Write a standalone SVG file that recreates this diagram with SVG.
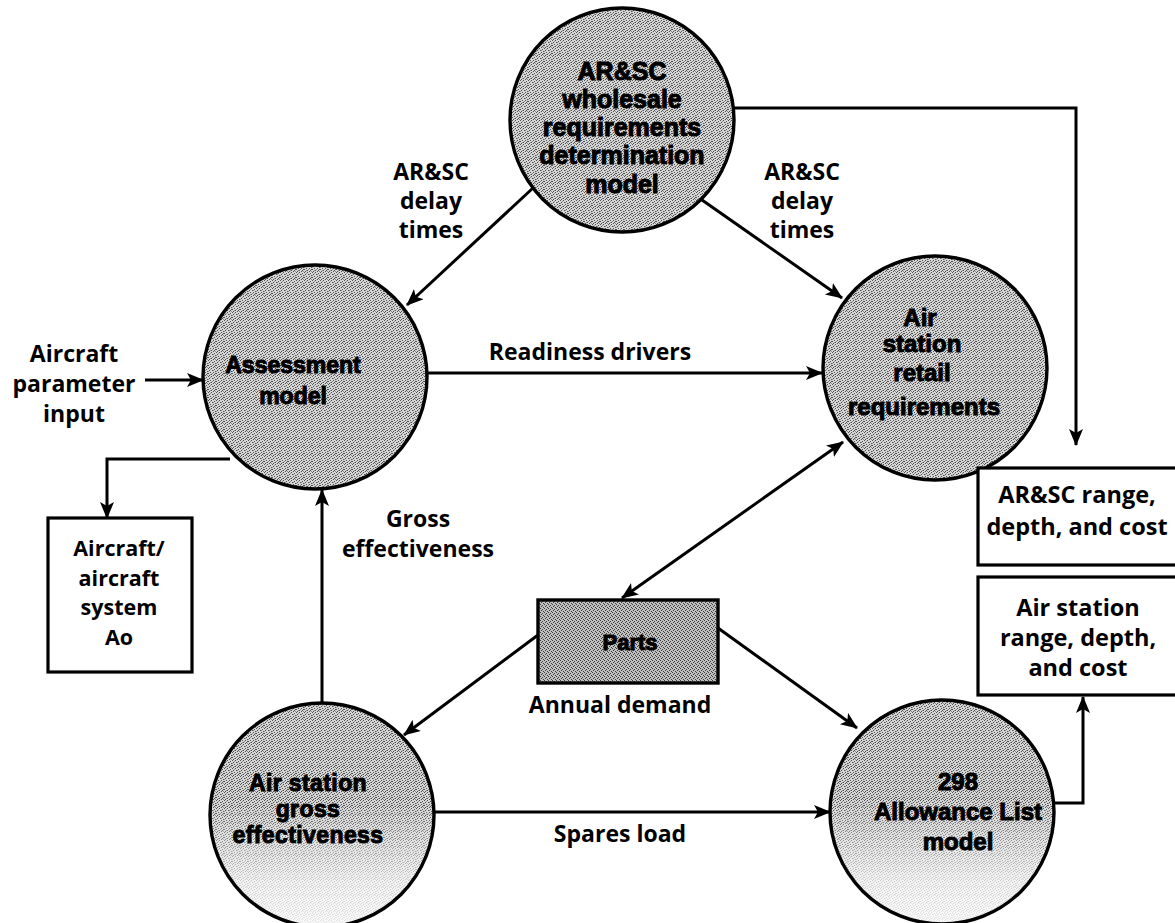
<svg xmlns="http://www.w3.org/2000/svg" width="1175" height="923" viewBox="0 0 1175 923">
  <style>
    .node-shape { stroke: #000; stroke-width: 3.4; }
    .box { fill: #fff; stroke: #000; stroke-width: 3.2; }
    .ntext { font-family: "Liberation Sans", Arial, sans-serif; font-weight: 700; font-size: 24px; fill: #000; text-anchor: middle; stroke: #000; stroke-width: 1; }
    .btext { font-family: "Open Sans", "Liberation Sans", sans-serif; font-weight: 700; font-size: 23.5px; fill: #000; text-anchor: middle; }
    .label { font-family: "Open Sans", "Liberation Sans", sans-serif; font-weight: 700; font-size: 23px; fill: #000; text-anchor: middle; }
    .conn { fill: none; stroke: #000; stroke-width: 3; }
    .arrow { marker-end: url(#head); }
  </style>
  <defs>
    <!-- irregular dithered grey for the process circles -->
    <pattern id="stipple" width="8" height="8" patternUnits="userSpaceOnUse">
      <rect width="8" height="8" fill="#d8d8d8"/>
      <g fill="#4a4a4a">
        <rect x="0" y="0" width="1" height="1"/><rect x="3" y="0" width="1" height="1"/><rect x="6" y="1" width="1" height="1"/>
        <rect x="1" y="2" width="1" height="1"/><rect x="4" y="2" width="1" height="1"/><rect x="7" y="3" width="1" height="1"/>
        <rect x="2" y="4" width="1" height="1"/><rect x="5" y="4" width="1" height="1"/><rect x="0" y="5" width="1" height="1"/>
        <rect x="3" y="6" width="1" height="1"/><rect x="6" y="6" width="1" height="1"/><rect x="1" y="7" width="1" height="1"/>
        <rect x="5" y="7" width="1" height="1"/><rect x="7" y="5" width="1" height="1"/>
      </g>
      <g fill="#8c8c8c">
        <rect x="2" y="1" width="1" height="1"/><rect x="5" y="2" width="1" height="1"/><rect x="0" y="3" width="1" height="1"/>
        <rect x="4" y="5" width="1" height="1"/><rect x="7" y="7" width="1" height="1"/><rect x="2" y="6" width="1" height="1"/>
      </g>
    </pattern>
    <!-- denser grey for the Parts store -->
    <pattern id="stipple-dark" width="4" height="4" patternUnits="userSpaceOnUse">
      <rect width="4" height="4" fill="#c0c0c0"/>
      <rect x="0" y="0" width="1" height="1" fill="#3a3a3a"/>
      <rect x="2" y="1" width="1" height="1" fill="#3a3a3a"/>
      <rect x="1" y="2" width="1" height="1" fill="#3a3a3a"/>
      <rect x="3" y="3" width="1" height="1" fill="#3a3a3a"/>
    </pattern>
    <!-- lighter lower half on the two bottom circles -->
    <linearGradient id="fade" x1="0" y1="0" x2="0" y2="1">
      <stop offset="0.45" stop-color="#fff" stop-opacity="0"/>
      <stop offset="0.8" stop-color="#fff" stop-opacity="0.7"/>
      <stop offset="1" stop-color="#fff" stop-opacity="0.85"/>
    </linearGradient>
    <marker id="head" markerWidth="18" markerHeight="16" refX="16" refY="7" orient="auto-start-reverse" markerUnits="userSpaceOnUse">
      <path d="M0,0 L17,7 L0,14 L4,7 z" fill="#000"/>
    </marker>
  </defs>

  <rect width="1175" height="923" fill="#fff"/>

  <!-- connectors -->
  <g id="connectors">
    <path class="conn arrow" d="M533,188 L407,305"/>
    <path class="conn arrow" d="M702,200 L842,298"/>
    <path class="conn arrow" d="M734,108 H1076 V445"/>
    <path class="conn arrow" d="M427,373 H822"/>
    <path class="conn arrow" d="M145,380 H203"/>
    <path class="conn arrow" d="M230,459 H107 V518"/>
    <path class="conn arrow" d="M322,703 V490"/>
    <path class="conn" d="M622,598 L843,442" marker-start="url(#head)" marker-end="url(#head)"/>
    <path class="conn arrow" d="M538,635 L404,735"/>
    <path class="conn arrow" d="M718,628 L857,728"/>
    <path class="conn arrow" d="M434,812 H830"/>
    <path class="conn arrow" d="M1054,803 H1083 V697"/>
  </g>

  <!-- connector labels -->
  <g id="labels">
    <text class="label" x="431" y="180">AR&amp;SC</text>
    <text class="label" x="431" y="209">delay</text>
    <text class="label" x="431" y="238">times</text>
    <text class="label" x="802" y="180">AR&amp;SC</text>
    <text class="label" x="802" y="209">delay</text>
    <text class="label" x="802" y="238">times</text>
    <text class="label" x="590" y="360">Readiness drivers</text>
    <text class="label" x="74" y="362">Aircraft</text>
    <text class="label" x="74" y="392">parameter</text>
    <text class="label" x="74" y="422">input</text>
    <text class="label" x="418" y="527">Gross</text>
    <text class="label" x="418" y="557">effectiveness</text>
    <text class="label" x="620" y="713">Annual demand</text>
    <text class="label" x="620" y="842">Spares load</text>
  </g>

  <g id="wholesale-model">
    <circle class="node-shape" cx="622" cy="120" r="112" fill="url(#stipple)"/>
    <text class="ntext" x="622" y="80" style="font-size:25px">AR&amp;SC</text>
    <text class="ntext" x="622" y="108" style="font-size:25px">wholesale</text>
    <text class="ntext" x="622" y="136" style="font-size:25px">requirements</text>
    <text class="ntext" x="622" y="164" style="font-size:25px">determination</text>
    <text class="ntext" x="622" y="193" style="font-size:25px">model</text>
  </g>

  <g id="assessment-model">
    <circle class="node-shape" cx="315" cy="377" r="112" fill="url(#stipple)"/>
    <text class="ntext" x="293" y="373" style="font-size:23px">Assessment</text>
    <text class="ntext" x="293" y="404" style="font-size:23px">model</text>
  </g>

  <g id="retail-requirements">
    <circle class="node-shape" cx="935" cy="368" r="112" fill="url(#stipple)"/>
    <text class="ntext" x="920" y="326">Air</text>
    <text class="ntext" x="922" y="352">station</text>
    <text class="ntext" x="922" y="381">retail</text>
    <text class="ntext" x="924" y="415">requirements</text>
  </g>

  <g id="gross-effectiveness">
    <circle cx="322" cy="815" r="112" fill="url(#stipple)"/>
    <circle cx="322" cy="815" r="112" fill="url(#fade)"/>
    <circle class="node-shape" cx="322" cy="815" r="112" fill="none"/>
    <text class="ntext" x="308" y="791" style="font-size:23px;letter-spacing:0.4px">Air station</text>
    <text class="ntext" x="308" y="817" style="font-size:23px;letter-spacing:0.4px">gross</text>
    <text class="ntext" x="308" y="843" style="font-size:23px;letter-spacing:0.4px">effectiveness</text>
  </g>

  <g id="allowance-list-model">
    <circle cx="942" cy="812" r="112" fill="url(#stipple)"/>
    <circle cx="942" cy="812" r="112" fill="url(#fade)"/>
    <circle class="node-shape" cx="942" cy="812" r="112" fill="none"/>
    <text class="ntext" x="958" y="790">298</text>
    <text class="ntext" x="958" y="820">Allowance List</text>
    <text class="ntext" x="958" y="850">model</text>
  </g>

  <g id="parts">
    <rect class="node-shape" x="538" y="600" width="180" height="83" fill="url(#stipple-dark)"/>
    <text class="ntext" x="630" y="650" style="font-size:22px">Parts</text>
  </g>

  <g id="aircraft-ao">
    <rect class="box" x="48" y="518" width="144" height="154"/>
    <text class="btext" x="119" y="556" style="font-size:21.5px">Aircraft/</text>
    <text class="btext" x="119" y="585.5" style="font-size:21.5px">aircraft</text>
    <text class="btext" x="119" y="615" style="font-size:21.5px">system</text>
    <text class="btext" x="119" y="644.5" style="font-size:21.5px">Ao</text>
  </g>

  <g id="arsc-range">
    <rect class="box" x="978" y="468" width="210" height="97"/>
    <text class="btext" x="1077" y="503">AR&amp;SC range,</text>
    <text class="btext" x="1077" y="535">depth, and cost</text>
  </g>

  <g id="station-range">
    <rect class="box" x="978" y="577" width="210" height="118"/>
    <text class="btext" x="1078" y="616">Air station</text>
    <text class="btext" x="1078" y="646">range, depth,</text>
    <text class="btext" x="1078" y="676">and cost</text>
  </g>
</svg>
